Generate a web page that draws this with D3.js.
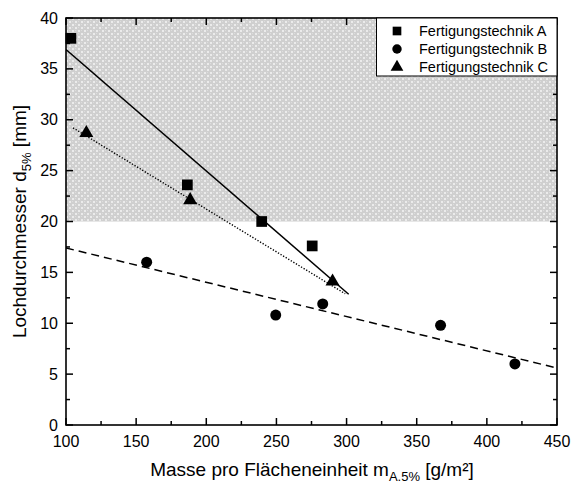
<!DOCTYPE html>
<html>
<head>
<meta charset="utf-8">
<script src="https://cdn.jsdelivr.net/npm/d3@7"></script>
<style>
  body { margin: 0; background: #fff; }
  text { font-family: "Liberation Sans", Arial, sans-serif; fill: #000; }
</style>
</head>
<body>
<svg id="chart" width="585" height="486"></svg>
<script>
// Measurements: mass per unit area (g/m²) vs. hole diameter d5% (mm)
const seriesNames = ["Fertigungstechnik A", "Fertigungstechnik B", "Fertigungstechnik C"];
const massA = [103.5, 186.5, 239.5, 275.5];
const holeA = [38.0, 23.6, 20.0, 17.6];
const massB = [157.5, 249.5, 283, 367, 420];
const holeB = [16.0, 10.8, 11.9, 9.8, 6.0];
const massC = [114.5, 188.5, 290];
const holeC = [28.7, 22.1, 14.1];

// Linear trend lines (start/end of each fit)
const fitA = [[100, 36.9], [301.5, 12.85]];
const fitB = [[100, 17.4], [450, 5.6]];
const fitC = [[105, 29.2], [299, 12.9]];

// Shaded band of the y range
const bandRange = [20, 40];

const xTicks = [100, 150, 200, 250, 300, 350, 400, 450];
const yTicks = [0, 5, 10, 15, 20, 25, 30, 35, 40];
const xMinorTicks = [125, 175, 225, 275, 325, 375, 425];
const yMinorTicks = [2.5, 7.5, 12.5, 17.5, 22.5, 27.5, 32.5, 37.5];

const svg = d3.select("#chart");
const m = { left: 66, right: 557, top: 18, bottom: 425 };

const x = d3.scaleLinear().domain([100, 450]).range([m.left, m.right]);
const y = d3.scaleLinear().domain([0, 40]).range([m.bottom, m.top]);

// Dotted fill pattern for the shaded band
const defs = svg.append("defs");
const pat = defs.append("pattern")
  .attr("id", "dots").attr("patternUnits", "userSpaceOnUse")
  .attr("width", 6).attr("height", 6);
pat.append("rect").attr("width", 6).attr("height", 6).attr("fill", "#cfcfcf");
pat.append("rect").attr("x", 0).attr("y", 0).attr("width", 2).attr("height", 2).attr("fill", "#ebebeb");
pat.append("rect").attr("x", 3).attr("y", 3).attr("width", 2).attr("height", 2).attr("fill", "#ebebeb");
pat.append("rect").attr("x", 3).attr("y", 0).attr("width", 1).attr("height", 1).attr("fill", "#dddddd");
pat.append("rect").attr("x", 0).attr("y", 3).attr("width", 1).attr("height", 1).attr("fill", "#dddddd");

defs.append("clipPath").attr("id", "plotClip")
  .append("rect").attr("x", m.left).attr("y", m.top)
  .attr("width", m.right - m.left).attr("height", m.bottom - m.top);

svg.append("rect")
  .attr("x", x(100)).attr("y", y(bandRange[1]))
  .attr("width", x(450) - x(100)).attr("height", y(bandRange[0]) - y(bandRange[1]))
  .attr("fill", "url(#dots)");

// Inward tick marks on all four sides
const ticksG = svg.append("g").attr("stroke", "#000").attr("stroke-width", 1.5);
function xTickMarks(vals, len) {
  vals.forEach(v => {
    ticksG.append("line").attr("x1", x(v)).attr("x2", x(v)).attr("y1", m.bottom).attr("y2", m.bottom - len);
    ticksG.append("line").attr("x1", x(v)).attr("x2", x(v)).attr("y1", m.top).attr("y2", m.top + len);
  });
}
function yTickMarks(vals, len) {
  vals.forEach(v => {
    ticksG.append("line").attr("y1", y(v)).attr("y2", y(v)).attr("x1", m.left).attr("x2", m.left + len);
    ticksG.append("line").attr("y1", y(v)).attr("y2", y(v)).attr("x1", m.right).attr("x2", m.right - len);
  });
}
xTickMarks(xTicks, 7);
xTickMarks(xMinorTicks, 4);
yTickMarks(yTicks, 7);
yTickMarks(yMinorTicks, 4);

// Tick labels
svg.append("g").selectAll("text").data(xTicks).join("text")
  .attr("x", d => x(d)).attr("y", m.bottom + 22).attr("text-anchor", "middle")
  .style("font-size", "16px").text(d => d3.format("d")(d));
svg.append("g").selectAll("text").data(yTicks).join("text")
  .attr("x", m.left - 8).attr("y", d => y(d)).attr("dy", "0.35em").attr("text-anchor", "end")
  .style("font-size", "16px").text(d => d3.format("d")(d));

svg.append("rect")
  .attr("x", m.left).attr("y", m.top)
  .attr("width", m.right - m.left).attr("height", m.bottom - m.top)
  .attr("fill", "none").attr("stroke", "#000").attr("stroke-width", 1.6);

// Trend lines
const line = d3.line().x(d => x(d[0])).y(d => y(d[1]));
const plot = svg.append("g").attr("clip-path", "url(#plotClip)");
plot.append("path").attr("d", line(fitA)).attr("fill", "none")
  .attr("stroke", "#000").attr("stroke-width", 1.5);
plot.append("path").attr("d", line(fitB)).attr("fill", "none")
  .attr("stroke", "#000").attr("stroke-width", 1.5).attr("stroke-dasharray", "8,5");
plot.append("path").attr("d", line(fitC)).attr("fill", "none")
  .attr("stroke", "#000").attr("stroke-width", 1.4).attr("stroke-dasharray", "1.3,1.7");

// Markers
const symSquare = d3.symbol().type(d3.symbolSquare).size(115);
const symCircle = d3.symbol().type(d3.symbolCircle).size(95);
const symTriangle = d3.symbol().type(d3.symbolTriangle).size(85);

function drawMarks(xs, ys, sym) {
  svg.append("g").selectAll("path").data(xs).join("path")
    .attr("d", sym)
    .attr("transform", (d, i) => `translate(${x(d)},${y(ys[i])})`)
    .attr("fill", "#000");
}
drawMarks(massA, holeA, symSquare);
drawMarks(massB, holeB, symCircle);
drawMarks(massC, holeC, symTriangle);

// Legend
const lg = svg.append("g");
lg.append("rect").attr("x", 376.5).attr("y", m.top).attr("width", m.right - 376.5).attr("height", 58)
  .attr("fill", "#fff").attr("stroke", "#000").attr("stroke-width", 1);
const legSyms = [
  d3.symbol().type(d3.symbolSquare).size(75),
  d3.symbol().type(d3.symbolCircle).size(70),
  d3.symbol().type(d3.symbolTriangle).size(70)
];
seriesNames.forEach((name, i) => {
  const cy = 31 + i * 18;
  lg.append("path").attr("d", legSyms[i]()).attr("transform", `translate(397,${cy})`).attr("fill", "#000");
  lg.append("text").attr("x", 419).attr("y", cy).attr("dy", "0.35em")
    .style("font-size", "14.5px").text(name);
});

// Axis titles
const xt = svg.append("text").attr("x", 312).attr("y", 476).attr("text-anchor", "middle")
  .style("font-size", "19px");
xt.append("tspan").text("Masse pro Flächeneinheit m");
xt.append("tspan").attr("dy", 5).style("font-size", "13px").text("A.5%");
xt.append("tspan").attr("dy", -5).text(" [g/m²]");

const yt = svg.append("text").attr("transform", `translate(26,${(m.top + m.bottom) / 2}) rotate(-90)`)
  .attr("text-anchor", "middle").style("font-size", "19px");
yt.append("tspan").text("Lochdurchmesser d");
yt.append("tspan").attr("dy", 5).style("font-size", "13px").text("5%");
yt.append("tspan").attr("dy", -5).text(" [mm]");
</script>
</body>
</html>
